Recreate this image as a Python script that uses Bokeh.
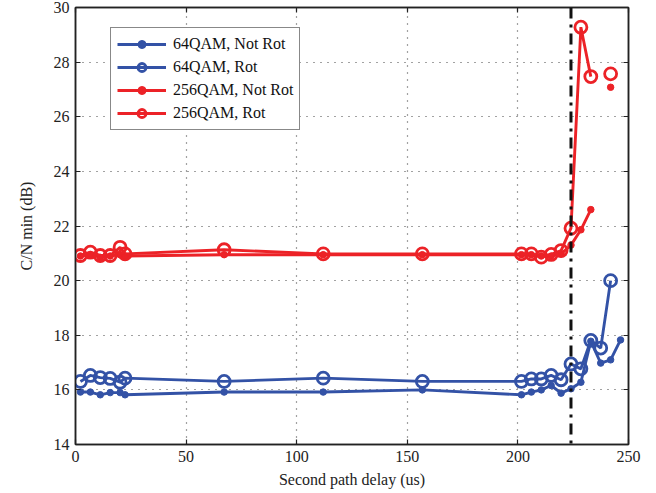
from bokeh.plotting import figure
from bokeh.models import Span, Legend, LegendItem, LinearAxis, FixedTicker
from bokeh.embed import file_html
from bokeh.resources import INLINE

nan = float("nan")

delay_us = [2.24, 6.72, 11.2, 15.68, 20.16, 22.4, 67.2, 112, 156.8, 201.6,
            206.08, 210.56, 215.04, 219.52, 224, 228.48, 232.96, 237.44, 241.92, 246.4]

qam64_not_rot = [15.92, 15.92, 15.82, 15.9, 15.9, 15.82, 15.92, 15.92, 16.0, 15.82,
                 15.92, 16.0, 16.16, 15.88, 16.04, 16.28, 17.78, 16.98, 17.1, 17.83]
qam64_rot = [16.31, 16.53, 16.45, 16.42, 16.28, 16.43, 16.31, 16.43, 16.31, 16.31,
             16.4, 16.4, 16.53, 16.37, 16.95, 16.77, 17.81, 17.53, 20.0, nan]
qam256_not_rot = [20.9, 20.95, 20.85, 20.9, 20.95, 20.9, 20.95, 20.95, 20.95, 20.95,
                  20.95, 20.9, 20.9, 20.98, 21.3, 21.86, 22.6, nan, 27.08, nan]
qam256_rot = [20.92, 21.04, 20.92, 20.92, 21.22, 20.98, 21.13, 20.98, 20.98, 20.98,
              20.98, 20.86, 20.96, 21.1, 21.92, 29.28, 27.47, nan, 27.57, nan]

guard_interval_us = 224
x_ticks = [0, 50, 100, 150, 200, 250]
y_ticks = [14, 16, 18, 20, 22, 24, 26, 28, 30]

BLUE = "#3352A6"
RED = "#EC2227"
FONT = "Liberation Serif"
INK = "#222222"

p = figure(width=656, height=493, x_range=(0, 250), y_range=(14, 30),
           output_backend="svg", toolbar_location=None,
           min_border_left=75, min_border_right=28, min_border_top=7, min_border_bottom=49,
           background_fill_color="white", border_fill_color="white")

p.outline_line_color = INK
p.outline_line_width = 1.5

xa = p.below[0]
ya = p.left[0]

top_axis = LinearAxis()
right_axis = LinearAxis()
p.add_layout(top_axis, "above")
p.add_layout(right_axis, "right")

for ax in (top_axis, right_axis):
    ax.major_label_text_font_size = "0px"
    ax.major_label_standoff = 0
    ax.major_label_text_alpha = 0

for ax, ticks in ((xa, x_ticks), (ya, y_ticks), (top_axis, x_ticks), (right_axis, y_ticks)):
    ax.ticker = FixedTicker(ticks=ticks)
    ax.major_tick_in = 5
    ax.major_tick_out = 0
    ax.minor_tick_line_color = None
    ax.axis_line_color = INK
    ax.axis_line_width = 1.5
    ax.major_tick_line_color = INK
    ax.major_tick_line_width = 1.2

for ax in (xa, ya):
    ax.major_label_text_font = FONT
    ax.major_label_text_font_size = "16px"
    ax.major_label_text_color = INK
    ax.axis_label_text_font = FONT
    ax.axis_label_text_font_size = "16px"
    ax.axis_label_text_font_style = "normal"
    ax.axis_label_text_color = INK

xa.axis_label = "Second path delay (us)"
ya.axis_label = "C/N min (dB)"
xa.major_label_standoff = 6
ya.major_label_standoff = 6
xa.axis_label_standoff = 6
ya.axis_label_standoff = 16

p.xgrid.ticker = FixedTicker(ticks=x_ticks)
p.ygrid.ticker = FixedTicker(ticks=y_ticks)
for g in (p.xgrid[0], p.ygrid[0]):
    g.grid_line_color = "#444444"
    g.grid_line_dash = "1 6"
    g.grid_line_width = 1.2

series = [(qam64_not_rot, BLUE, False, "64QAM, Not Rot"),
          (qam64_rot, BLUE, True, "64QAM, Rot"),
          (qam256_not_rot, RED, False, "256QAM, Not Rot"),
          (qam256_rot, RED, True, "256QAM, Rot")]
items = []
for vals, col, rot, label in series:
    ln = p.line(delay_us, vals, line_color=col, line_width=2.9)
    if rot:
        sc = p.scatter(delay_us, vals, marker="circle", size=12, fill_color=None,
                       line_color=col, line_width=2.8)
    else:
        sc = p.scatter(delay_us, vals, marker="circle", size=6.5, fill_color=col,
                       line_color=col, line_width=1)
    items.append(LegendItem(label=label, renderers=[ln, sc]))

p.add_layout(Span(location=guard_interval_us, dimension="height", line_color="#111111",
                  line_width=3, line_dash="11 6 3 6"))

legend = Legend(items=items, location=(35, 314))
legend.label_text_font = FONT
legend.label_text_font_size = "16px"
legend.label_text_color = "#111111"
legend.glyph_width = 49
legend.glyph_height = 20
legend.label_height = 20
legend.spacing = 3
legend.padding = 6
legend.margin = 0
legend.label_standoff = 7
legend.border_line_color = "#111111"
legend.border_line_width = 1.2
legend.background_fill_color = "white"
legend.background_fill_alpha = 1
p.add_layout(legend)

open("out.html", "w").write(file_html(p, INLINE))
